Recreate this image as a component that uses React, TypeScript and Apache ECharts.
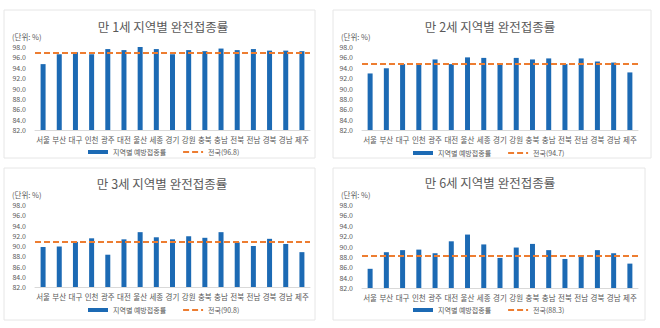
import React, { useEffect, useRef } from "react";
import * as echarts from "echarts";

const regions = ["서울", "부산", "대구", "인천", "광주", "대전", "울산", "세종", "경기", "강원", "충북", "충남", "전북", "전남", "경북", "경남", "제주"];
const age1 = [94.7, 96.6, 97.0, 96.6, 97.6, 97.4, 98.2, 97.6, 96.6, 97.4, 97.2, 97.7, 97.4, 97.6, 97.3, 97.3, 97.2];
const age2 = [92.9, 93.9, 94.7, 94.9, 95.6, 94.7, 96.0, 95.9, 94.7, 95.9, 95.6, 95.8, 94.7, 95.8, 95.2, 95.0, 93.1];
const age3 = [89.8, 89.9, 90.8, 91.5, 88.3, 91.3, 92.7, 91.7, 91.3, 91.9, 91.6, 92.7, 90.7, 90.0, 91.4, 90.4, 88.8];
const age6 = [85.7, 88.9, 89.3, 89.4, 88.7, 91.0, 92.3, 90.4, 87.8, 89.8, 90.5, 89.3, 87.6, 88.2, 89.3, 88.7, 86.7];
const nationalAvg = [96.8, 94.7, 90.8, 88.3];
const titles = ["만 1세 지역별 완전접종률", "만 2세 지역별 완전접종률", "만 3세 지역별 완전접종률", "만 6세 지역별 완전접종률"];
const barName = "지역별 예방접종률";
const unitLabel = "(단위: %)";

const FONT = "'Noto Sans CJK KR', 'Noto Sans', sans-serif";
const GRAY = "#595959";
const BLUE = "#1c6ab4";
const ORANGE = "#ed7d31";

const panels = [
  { box: [4, 10, 311, 148], grid: [35, 47, 275, 83], title: [163, 26], legend: [88, 148.5] },
  { box: [333, 10, 318, 148], grid: [362, 47, 276, 83], title: [490, 26], legend: [413, 149.5] },
  { box: [4, 168, 311, 152], grid: [35, 205, 275, 82], title: [162, 183], legend: [88, 306.5] },
  { box: [333, 168, 312, 152], grid: [362, 205, 276, 83], title: [490, 182], legend: [413, 306.5] },
];

const seriesData = [age1, age2, age3, age6];

export default function App() {
  const ref = useRef<HTMLDivElement>(null);
  useEffect(() => {
    if (!ref.current) return;
    const chart = echarts.init(ref.current, undefined, { renderer: "svg" });
    const grids: any[] = [];
    const xAxes: any[] = [];
    const yAxes: any[] = [];
    const series: any[] = [];
    const legends: any[] = [];
    const graphics: any[] = [];
    panels.forEach((p, i) => {
      const [gl, gt, gw, gh] = p.grid;
      grids.push({ left: gl, top: gt, width: gw, height: gh, containLabel: false });
      xAxes.push({
        type: "category",
        gridIndex: i,
        data: regions,
        axisLine: { lineStyle: { color: "#d9d9d9", width: 1 } },
        axisTick: { show: false },
        axisLabel: { interval: 0, fontSize: 7.5, color: GRAY, margin: 6, fontFamily: FONT },
      });
      yAxes.push({
        type: "value",
        gridIndex: i,
        min: 82,
        max: 98,
        interval: 2,
        splitLine: { show: false },
        axisLine: { show: false },
        axisTick: { show: false },
        axisLabel: { fontSize: 7, color: GRAY, margin: 9, fontFamily: FONT, formatter: (v: number) => v.toFixed(1) },
      });
      const natName = `전국(${nationalAvg[i].toFixed(1)})`;
      series.push({
        type: "bar",
        name: barName,
        xAxisIndex: i,
        yAxisIndex: i,
        data: seriesData[i],
        barWidth: 5,
        itemStyle: { color: BLUE },
      });
      series.push({
        type: "line",
        name: natName,
        xAxisIndex: i,
        yAxisIndex: i,
        data: [],
        symbol: "none",
        lineStyle: { color: ORANGE, width: 2, type: [6, 3] },
        itemStyle: { color: ORANGE },
        markLine: {
          silent: true,
          symbol: ["none", "none"],
          label: { show: false },
          lineStyle: { color: ORANGE, width: 2, type: [6, 3] },
          data: [{ yAxis: nationalAvg[i] }],
        },
      });
      legends.push({
        left: p.legend[0],
        top: p.legend[1],
        padding: 0,
        itemWidth: 20,
        itemHeight: 4,
        itemGap: 16,
        data: [
          { name: barName, icon: "rect" },
          { name: natName, itemStyle: { opacity: 0 } },
        ],
        textStyle: { fontSize: 7, color: GRAY, fontFamily: FONT },
        selectedMode: false,
      });
      graphics.push({
        type: "rect",
        shape: { x: p.box[0], y: p.box[1], width: p.box[2], height: p.box[3] },
        style: { fill: "none", stroke: "#e6e6e6", lineWidth: 1 },
        silent: true,
      });
      graphics.push({
        type: "text",
        x: p.title[0],
        y: p.title[1],
        style: {
          text: titles[i],
          fontSize: 12.5,
          fill: GRAY,
          fontFamily: FONT,
          align: "center",
          verticalAlign: "middle",
        },
      });
      graphics.push({
        type: "text",
        x: p.box[0] + 8,
        y: gt - 11,
        style: {
          text: unitLabel,
          fontSize: 7.5,
          fill: GRAY,
          fontFamily: FONT,
          align: "left",
          verticalAlign: "middle",
        },
      });
    });
    chart.setOption({
      animation: false,
      backgroundColor: "#ffffff",
      textStyle: { fontFamily: FONT },
      grid: grids,
      xAxis: xAxes,
      yAxis: yAxes,
      series,
      legend: legends,
      graphic: graphics,
    });
    return () => chart.dispose();
  }, []);
  return (
    <div
      ref={ref}
      style={{ position: "absolute", left: 0, top: 0, width: 660, height: 328 }}
    />
  );
}
